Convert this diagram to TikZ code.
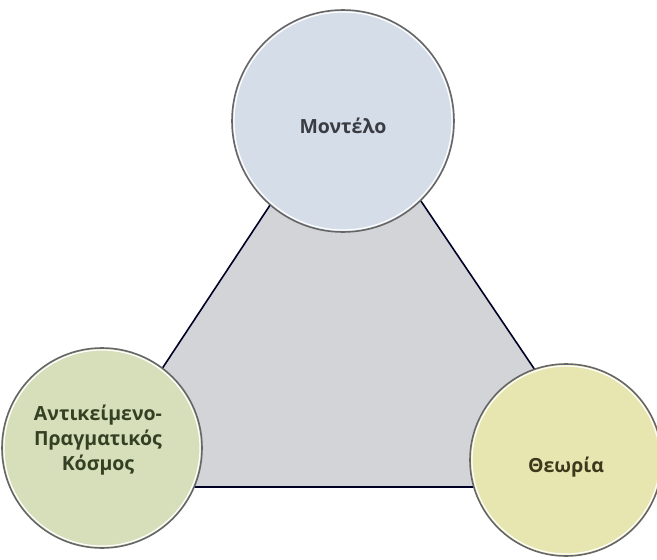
\documentclass[tikz,border=0pt]{standalone}
\usepackage{fontspec}
\setmainfont{Open Sans}
\begin{document}
\begin{tikzpicture}[x=1pt,y=-1pt,
  bubble/.style={circle, draw=black!60, line width=1.6pt, inner sep=0pt},
  caption/.style={font=\bfseries\fontsize{19.5}{25}\selectfont, align=center, inner sep=0pt},
  rim/.style={draw=white, line width=1.2pt},
  frame/.style={draw=black!85!blue, line width=1.6pt, fill=triFill, line join=miter}]
\definecolor{triFill}{RGB}{211,212,216}
\definecolor{blueFill}{RGB}{213,221,233}
\definecolor{greenFill}{RGB}{214,222,186}
\definecolor{yellowFill}{RGB}{231,230,176}
\definecolor{blueText}{RGB}{58,60,66}
\definecolor{greenText}{RGB}{52,64,36}
\definecolor{yellowText}{RGB}{60,56,28}
\useasboundingbox (0,0) rectangle (657,560);
% triangle behind the three circles
\coordinate (tTop) at (346,90);
\coordinate (tLeft) at (84,487);
\coordinate (tRight) at (614,487);
\draw[frame] (tTop) -- (tLeft) -- (tRight) -- cycle;
% circles
\node[bubble, minimum size=222pt, fill=blueFill] (model) at (343,121) {};
\node[bubble, minimum size=200pt, fill=greenFill] (world) at (102,448) {};
\node[bubble, minimum size=192pt, fill=yellowFill] (theory) at (566,460) {};
% thin light rim inside each outline
\draw[rim] (model.center) circle (109pt);
\draw[rim] (world.center) circle (98pt);
\draw[rim] (theory.center) circle (94pt);
% labels
\node[caption, text=blueText] (modelLabel) at ([yshift=-5pt]model.center) {Μοντέλο};
\node[caption, text=greenText] (worldLabel) at ([xshift=-4pt,yshift=8pt]world.center) {Αντικείμενο-\\Πραγματικός\\Κόσμος};
\node[caption, text=yellowText] (theoryLabel) at ([yshift=-7pt]theory.center) {Θεωρία};
\end{tikzpicture}
\end{document}
